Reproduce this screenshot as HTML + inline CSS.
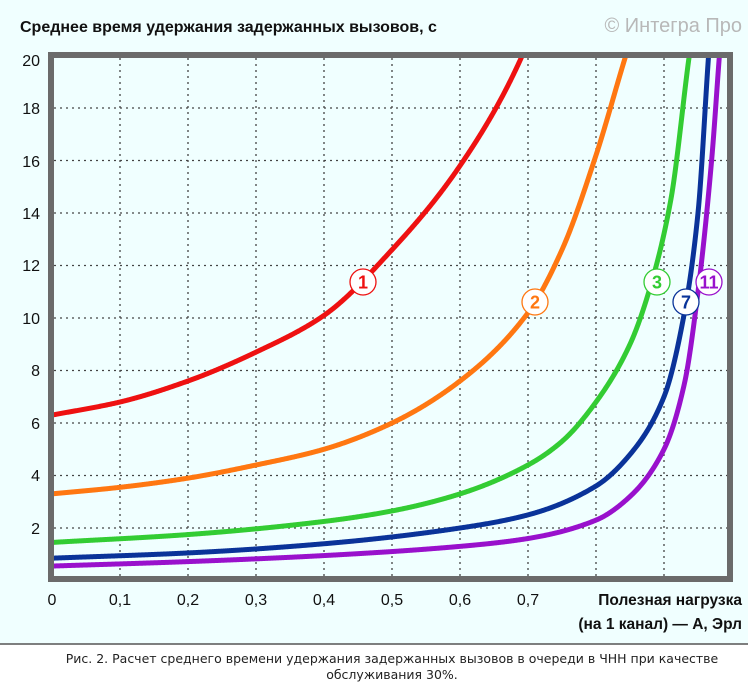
<!DOCTYPE html>
<html><head><meta charset="utf-8"><style>
body{margin:0;width:748px;height:686px;background:#fff;overflow:hidden}
svg{display:block}
</style></head><body>
<svg id="s" width="748" height="686" xmlns="http://www.w3.org/2000/svg" font-family="Liberation Sans, sans-serif">
<rect x="0" y="0" width="748" height="644" fill="#f0ffff"/>
<line x1="0" y1="644" x2="748" y2="644" stroke="#555" stroke-width="1.5"/>
<defs><clipPath id="c"><rect x="54" y="58" width="673" height="518"/></clipPath></defs>
<g id="grid" stroke="#444" stroke-width="1.3" stroke-dasharray="2,4"></g>
<g id="curves" clip-path="url(#c)" fill="none" stroke-width="5" stroke-linejoin="round"></g>
<rect x="51" y="55" width="679" height="524" fill="none" stroke="#6b6b6b" stroke-width="6"/>
<text x="20" y="32" font-size="16" font-weight="bold" fill="#111">Среднее время удержания задержанных вызовов, с</text>
<text x="742" y="32" font-size="20" fill="#b8b8b8" text-anchor="end">© Интегра Про</text>
<g font-size="16" fill="#111" text-anchor="end">
<text x="40" y="66">20</text><text x="40" y="114">18</text><text x="40" y="167">16</text><text x="40" y="219">14</text><text x="40" y="271">12</text><text x="40" y="324">10</text><text x="40" y="376">8</text><text x="40" y="429">6</text><text x="40" y="481">4</text><text x="40" y="534">2</text>
</g>
<g font-size="16" fill="#111" text-anchor="middle">
<text x="52" y="605">0</text><text x="120" y="605">0,1</text><text x="188" y="605">0,2</text><text x="256" y="605">0,3</text><text x="324" y="605">0,4</text><text x="392" y="605">0,5</text><text x="460" y="605">0,6</text><text x="528" y="605">0,7</text>
</g>
<g font-size="15.5" font-weight="bold" fill="#111" text-anchor="end">
<text x="742" y="605">Полезная нагрузка</text>
<text x="742" y="629">(на 1 канал) — A, Эрл</text>
</g>
<g font-family="DejaVu Sans, sans-serif" font-size="12.5" fill="#222" text-anchor="middle">
<text x="392" y="663">Рис. 2. Расчет среднего времени удержания задержанных вызовов в очереди в ЧНН при качестве</text>
<text x="392" y="679">обслуживания 30%.</text>
</g>
<g id="labels" font-size="18" font-weight="bold" text-anchor="middle"></g>
</svg>
<script>
const X=v=>52+680*v, Y=v=>528-(v-2)*26.25, NS="http://www.w3.org/2000/svg";
const g=document.getElementById('grid');
function ln(a,b,c,d){const l=document.createElementNS(NS,'line');l.setAttribute('x1',a);l.setAttribute('y1',b);l.setAttribute('x2',c);l.setAttribute('y2',d);g.appendChild(l);}
for(let i=1;i<=9;i++)ln(X(i/10),58,X(i/10),576);
for(let v=2;v<=18;v+=2)ln(54,Y(v),727,Y(v));
const data=[
["#ee1111",[[0,6.3],[0.1,6.8],[0.2,7.6],[0.3,8.7],[0.4,10.1],[0.5,12.6],[0.6,15.8],[0.7,20.5],[0.72,22]]],
["#ff7711",[[0,3.3],[0.1,3.55],[0.2,3.9],[0.3,4.4],[0.4,5.0],[0.5,6.0],[0.6,7.6],[0.7,10.2],[0.75,12.6],[0.8,16.2],[0.85,20.5],[0.87,22]]],
["#33cc33",[[0,1.45],[0.2,1.75],[0.4,2.25],[0.5,2.65],[0.6,3.3],[0.7,4.4],[0.75,5.3],[0.8,6.8],[0.85,9.0],[0.88,11.2],[0.91,14.5],[0.94,20.5],[0.95,22]]],
["#0a3399",[[0,0.85],[0.2,1.05],[0.4,1.4],[0.6,2.0],[0.7,2.5],[0.8,3.6],[0.85,4.8],[0.9,7],[0.93,10.2],[0.95,14],[0.967,20.5],[0.972,22]]],
["#9911cc",[[0,0.55],[0.2,0.72],[0.4,0.95],[0.6,1.3],[0.7,1.6],[0.8,2.3],[0.85,3.2],[0.9,5],[0.93,7.5],[0.95,11],[0.97,16],[0.983,20.5],[0.988,22]]]];
function monotone(pts){const n=pts.length,xs=pts.map(p=>p[0]),ys=pts.map(p=>p[1]);
const d=[],m=[];for(let i=0;i<n-1;i++)d.push((ys[i+1]-ys[i])/(xs[i+1]-xs[i]));
m[0]=d[0];m[n-1]=d[n-2];
for(let i=1;i<n-1;i++){const h0=xs[i]-xs[i-1],h1=xs[i+1]-xs[i];const w1=2*h1+h0,w2=h1+2*h0;m[i]=(w1+w2)/(w1/d[i-1]+w2/d[i]);}
return a=>{let i=0;while(i<n-2&&a>xs[i+1])i++;const h=xs[i+1]-xs[i],t=(a-xs[i])/h;
const t2=t*t,t3=t2*t;return (2*t3-3*t2+1)*ys[i]+(t3-2*t2+t)*h*m[i]+(-2*t3+3*t2)*ys[i+1]+(t3-t2)*h*m[i+1];};}
const cg=document.getElementById('curves');
data.forEach(([col,pts])=>{const f=monotone(pts);const end=pts[pts.length-1][0];let d='';
for(let a=0;a<=end+1e-9;a+=0.001){d+=(d?' L':'M')+X(a).toFixed(2)+','+Y(f(a)).toFixed(2);}
const e=document.createElementNS(NS,'path');e.setAttribute('d',d);e.setAttribute('stroke',col);cg.appendChild(e);});
const lg=document.getElementById('labels');
[["1","#ee1111",363,282],["2","#ff7711",535,302],["3","#33cc33",657,282],["7","#0a3399",686,302],["11","#9911cc",709,282]].forEach(([t,c,x,y])=>{
const ci=document.createElementNS(NS,'circle');ci.setAttribute('cx',x);ci.setAttribute('cy',y);ci.setAttribute('r',13);ci.setAttribute('fill','#fff');ci.setAttribute('stroke',c);ci.setAttribute('stroke-width',1.3);lg.appendChild(ci);
const tx=document.createElementNS(NS,'text');tx.setAttribute('x',x);tx.setAttribute('y',y+6.5);tx.setAttribute('fill',c);tx.textContent=t;lg.appendChild(tx);});
</script>
</body></html>
